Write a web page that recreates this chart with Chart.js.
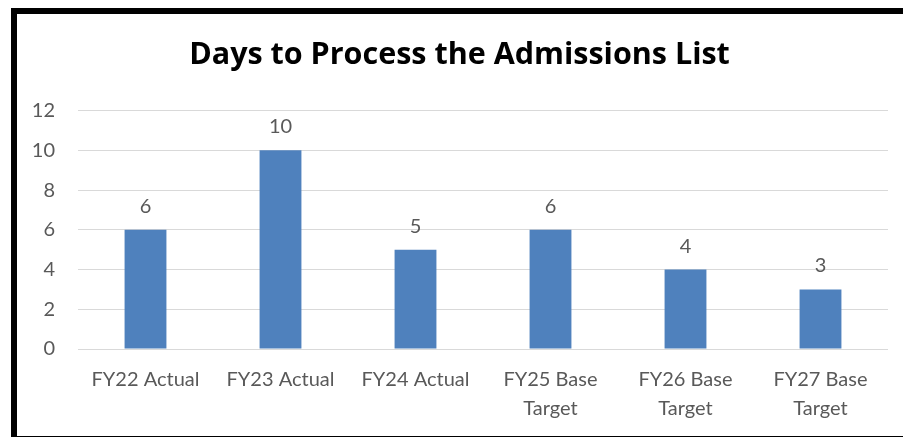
<!DOCTYPE html>
<html>
<head>
<meta charset="utf-8">
<script src="https://cdn.jsdelivr.net/npm/chart.js@4.4.0/dist/chart.umd.min.js"></script>
<style>
    html, body { margin: 0; padding: 0; background: #fff; overflow: hidden; width: 903px; height: 438px; }
    #frame {
        position: absolute; left: 11px; top: 8px;
        width: 920px; height: 422px;
        border-left: 6px solid #000; border-top: 6px solid #000; border-bottom: 1px solid #000;
        box-sizing: content-box;
    }
    #wrap { position: absolute; left: 0; top: 0; width: 886px; height: 422px; }
</style>
</head>
<body>
<div id="frame"><div id="wrap"><canvas id="ChartDays"></canvas></div></div>
<script>
const categories = [['FY22 Actual'], ['FY23 Actual'], ['FY24 Actual'], ['FY25 Base', 'Target'], ['FY26 Base', 'Target'], ['FY27 Base', 'Target']];
const days = [6, 10, 5, 6, 4, 3];
const yTicks = [0, 2, 4, 6, 8, 10, 12];

const textGray = '#595959';
const fontFamily = 'Lato, "Open Sans", sans-serif';

// value labels above each bar
const barLabels = {
    id: 'barLabels',
    afterDatasetsDraw(chart) {
        const c = chart.ctx;
        const meta = chart.getDatasetMeta(0);
        c.save();
        c.fillStyle = textGray;
        c.font = '20px ' + fontFamily;
        c.textAlign = 'center';
        c.textBaseline = 'alphabetic';
        meta.data.forEach(function (bar, i) {
            c.fillText(String(days[i]), bar.x, bar.y - 17);
        });
        c.restore();
    }
};

const ctx = document.getElementById('ChartDays');
new Chart(ctx, {
    type: 'bar',
    data: {
        labels: categories,
        datasets: [{
            label: 'Days',
            data: days,
            backgroundColor: '#4f81bd',
            borderWidth: 0,
            categoryPercentage: 1,
            barPercentage: 0.31
        }]
    },
    options: {
        responsive: true,
        maintainAspectRatio: false,
        animation: false,
        // a bit of left padding nudges the title centre right (y labels get clipped if more)
        layout: { padding: { top: 0, right: 15, bottom: 0, left: 14 } },
        plugins: {
            legend: { display: false },
            tooltip: { enabled: false },
            title: {
                display: true,
                text: 'Days to Process the Admissions List',
                color: '#000',
                font: { family: '"Open Sans", Lato, sans-serif', size: 30.5, weight: 'bold' },
                padding: { top: 23, bottom: 37 }
            }
        },
        scales: {
            x: {
                grid: { display: false, drawTicks: false },
                border: { display: false },
                ticks: {
                    color: textGray,
                    font: { family: fontFamily, size: 20, lineHeight: 1.45 },
                    padding: 16,
                    maxRotation: 0,
                    autoSkip: false
                },
                afterFit(scale) { scale.height = 87; }
            },
            y: {
                min: 0,
                max: 12,
                afterBuildTicks(scale) { scale.ticks = yTicks.map(v => ({ value: v })); },
                grid: { color: '#d9d9d9', lineWidth: 1, drawTicks: false },
                border: { display: false },
                ticks: {
                    color: textGray,
                    font: { family: fontFamily, size: 20 },
                    padding: 23
                },
                afterFit(scale) { scale.width = 47; }
            }
        }
    },
    plugins: [barLabels]
});
</script>
</body>
</html>
